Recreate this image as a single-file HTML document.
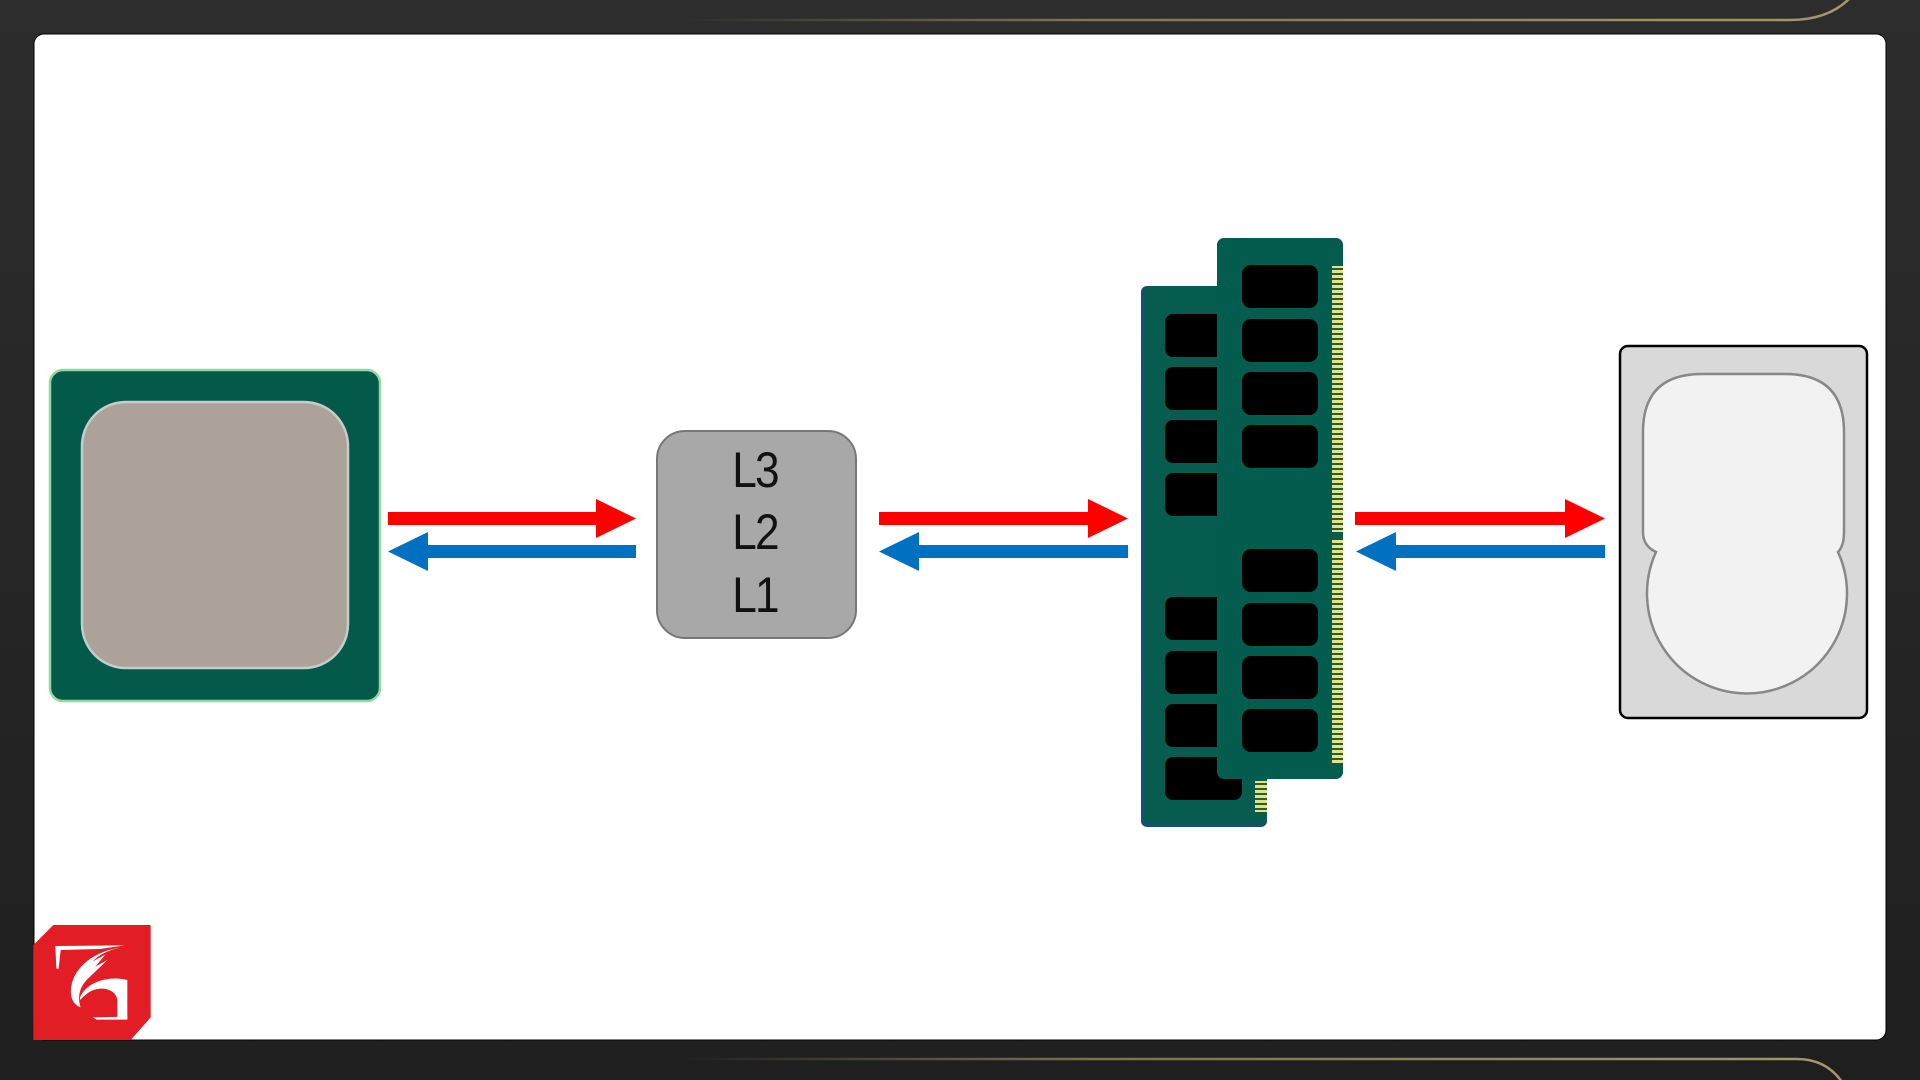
<!DOCTYPE html>
<html>
<head>
<meta charset="utf-8">
<style>
html,body{margin:0;padding:0;width:1920px;height:1080px;overflow:hidden;background:#262626;}
svg{display:block;}
</style>
</head>
<body>
<svg width="1920" height="1080" viewBox="0 0 1920 1080" xmlns="http://www.w3.org/2000/svg">
  <defs>
    <linearGradient id="bg" x1="0" y1="0" x2="0" y2="1">
      <stop offset="0" stop-color="#2d2d2d"/>
      <stop offset="1" stop-color="#1f1f1f"/>
    </linearGradient>
    <linearGradient id="gold" x1="680" y1="0" x2="1850" y2="0" gradientUnits="userSpaceOnUse">
      <stop offset="0" stop-color="#9d8c5f" stop-opacity="0"/>
      <stop offset="0.35" stop-color="#9d8c5f" stop-opacity="0.75"/>
      <stop offset="1" stop-color="#a8976a"/>
    </linearGradient>
    <pattern id="pins" x="0" y="0" width="20" height="5" patternUnits="userSpaceOnUse">
      <rect x="0" y="0" width="20" height="5" fill="#2d5b2c"/>
      <rect x="0" y="0" width="20" height="3" fill="#e3e28c"/>
    </pattern>
  </defs>

  <!-- background -->
  <rect x="0" y="0" width="1920" height="1080" fill="url(#bg)"/>
  <!-- gold lines -->
  <path d="M680,20 L1790,20 Q1830,20 1852,-4" fill="none" stroke="url(#gold)" stroke-width="2.5"/>
  <path d="M680,1059 L1797,1059 Q1826,1059 1842,1082" fill="none" stroke="url(#gold)" stroke-width="2.5"/>

  <!-- white panel -->
  <rect x="34" y="34" width="1852" height="1006" rx="10" ry="10" fill="#ffffff" stroke="#000" stroke-width="1"/>

  <!-- CPU -->
  <rect x="50" y="370" width="330" height="331" rx="13" fill="#035a4a" stroke="#94d8a0" stroke-width="2.5"/>
  <rect x="82" y="402" width="266" height="266" rx="44" fill="#ada29a" stroke="#c5cccc" stroke-width="2.5"/>

  <!-- Arrows set 1 -->
  <polygon points="388,512 596,512 596,499 636,518.5 596,538 596,525 388,525" fill="#ff0000"/>
  <polygon points="636,545 428,545 428,532 388,551.5 428,571 428,558 636,558" fill="#0070c0"/>

  <!-- Cache box -->
  <rect x="657" y="431" width="199" height="207" rx="28" fill="#a8a8a8" stroke="#777777" stroke-width="2"/>
  <g font-family="'Liberation Sans', 'DejaVu Sans', sans-serif" font-size="48" fill="#111111" text-anchor="middle" letter-spacing="-2">
    <text x="755" y="487" transform="translate(755 487) scale(0.92 1.05) translate(-755 -487)">L3</text>
    <text x="755" y="549" transform="translate(755 549) scale(0.92 1.05) translate(-755 -549)">L2</text>
    <text x="755" y="612" transform="translate(755 612) scale(0.92 1.05) translate(-755 -612)">L1</text>
  </g>

  <!-- Arrows set 2 -->
  <polygon points="879,512 1088,512 1088,499 1128,518.5 1088,538 1088,525 879,525" fill="#ff0000"/>
  <polygon points="1128,545 919,545 919,532 879,551.5 919,571 919,558 1128,558" fill="#0070c0"/>

  <!-- RAM back stick -->
  <rect x="1141" y="286" width="126" height="541" rx="6" fill="#16507a"/>
  <rect x="1143.5" y="286" width="123.5" height="538" rx="6" fill="#055c4f"/>
  <g fill="#000">
    <rect x="1165" y="314" width="77" height="43" rx="8"/>
    <rect x="1165" y="367" width="77" height="43" rx="8"/>
    <rect x="1165" y="420" width="77" height="43" rx="8"/>
    <rect x="1165" y="473" width="77" height="43" rx="8"/>
    <rect x="1165" y="597" width="77" height="43" rx="8"/>
    <rect x="1165" y="651" width="77" height="43" rx="8"/>
    <rect x="1165" y="704" width="77" height="43" rx="8"/>
    <rect x="1165" y="757" width="77" height="43" rx="8"/>
  </g>
  <rect x="1255" y="781" width="12" height="31" fill="url(#pins)"/>

  <!-- RAM front stick -->
  <rect x="1217" y="238" width="126" height="541" rx="7" fill="#035c4e"/>
  <g fill="#000">
    <rect x="1242" y="265" width="76" height="43" rx="9"/>
    <rect x="1242" y="319" width="76" height="43" rx="9"/>
    <rect x="1242" y="372" width="76" height="43" rx="9"/>
    <rect x="1242" y="425" width="76" height="43" rx="9"/>
    <rect x="1242" y="549" width="76" height="43" rx="9"/>
    <rect x="1242" y="603" width="76" height="43" rx="9"/>
    <rect x="1242" y="656" width="76" height="43" rx="9"/>
    <rect x="1242" y="709" width="76" height="43" rx="9"/>
  </g>
  <rect x="1332" y="266" width="11" height="266" fill="url(#pins)"/>
  <rect x="1332" y="540" width="11" height="223" fill="url(#pins)"/>

  <!-- Arrows set 3 -->
  <polygon points="1355,512 1565,512 1565,499 1605,518.5 1565,538 1565,525 1355,525" fill="#ff0000"/>
  <polygon points="1605,545 1396,545 1396,532 1356,551.5 1396,571 1396,558 1605,558" fill="#0070c0"/>

  <!-- HDD -->
  <rect x="1620" y="346" width="247" height="372" rx="8" fill="#d9d9d9" stroke="#000" stroke-width="2.5"/>
  <path d="M1656,552 Q1643,546 1643,532 L1643,432 Q1643,374 1702,374 L1785,374 Q1844,374 1844,432 L1844,532 Q1844,546 1838,552 A100,100 0 1 1 1656,552 Z" fill="#f2f2f2" stroke="#888888" stroke-width="2.5"/>

  <!-- Logo -->
  <svg x="30" y="920" width="125" height="125" viewBox="0 0 375 375">
    <polygon points="10,75 70,15 362,15 362,292 302,360 10,360" fill="#e21d25"/>
    <g fill="#ffffff">
      <path d="M76,78 L284,76 L210,87 L92,90 L86,146 L79,146 Z"/>
      <path d="M270,83 C195,94 135,138 124,198 C118,233 132,256 152,262 C141,228 150,196 178,172 L232,120 L196,140 L226,104 L188,124 C208,104 236,90 270,83 Z"/>
      <path d="M150,232 C170,186 235,166 292,180 L292,296 L262,296 L262,240 C258,206 210,196 178,216 C166,224 158,232 150,240 Z"/>
      <polygon points="188,292 292,290 292,299 200,299"/>
    </g>
  </svg>
</svg>
</body>
</html>
